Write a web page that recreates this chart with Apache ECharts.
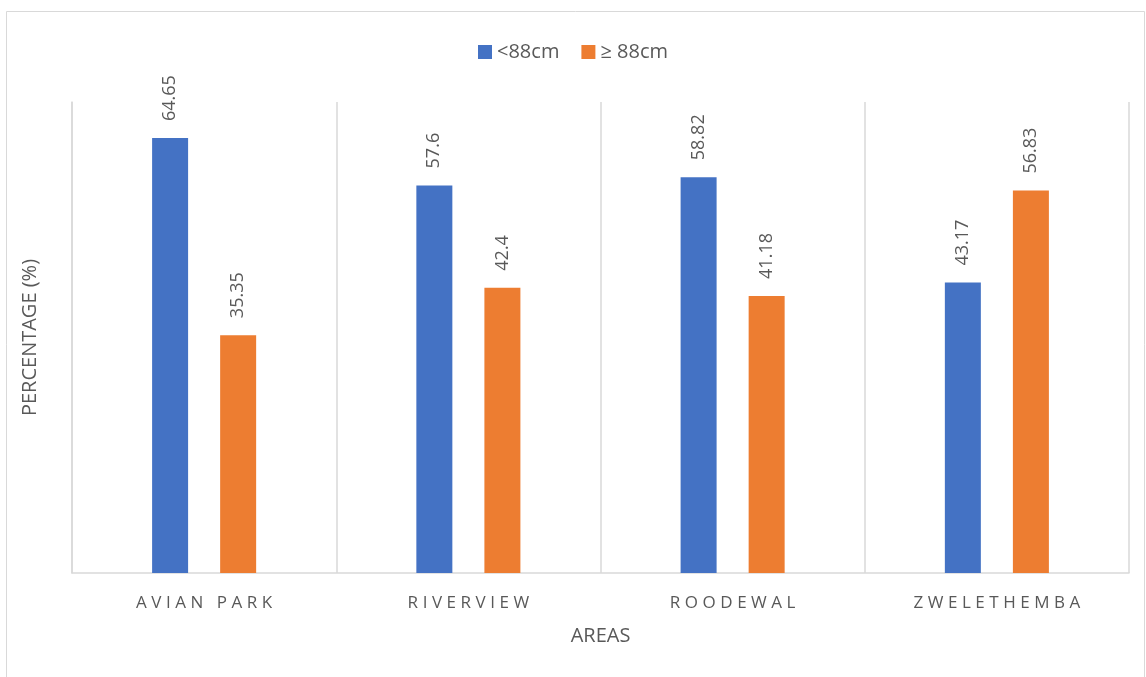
<!DOCTYPE html>
<html>
<head>
<meta charset="utf-8">
<script src="https://cdn.jsdelivr.net/npm/echarts@6/dist/echarts.min.js"></script>
<style>
  html, body { margin: 0; padding: 0; background: #fff; }
  #chart { width: 1146px; height: 677px; }
</style>
</head>
<body>
<div id="chart"></div>
<script>
// Waist circumference groups by area
const areas = ['AVIAN PARK', 'RIVERVIEW', 'ROODEWAL', 'ZWELETHEMBA'];
const seriesNames = ['<88cm', '≥ 88cm'];
const below88 = [64.65, 57.6, 58.82, 43.17];
const atOrAbove88 = [35.35, 42.4, 41.18, 56.83];

const FONT = 'Open Sans';
const TEXT = '#595959';
const GRID = '#D9D9D9';

// spread the letters of the category names
const spaced = s => s.split('').join('\u2009\u200A');

const chart = echarts.init(document.getElementById('chart'));

const valueLabel = {
  show: true,
  position: 'top',
  rotate: 90,
  align: 'left',
  verticalAlign: 'middle',
  distance: 17,
  color: TEXT,
  fontFamily: FONT,
  fontSize: 18
};

chart.setOption({
  animation: false,
  backgroundColor: '#fff',
  graphic: [{
    type: 'rect',
    shape: { x: 6.5, y: 11.5, width: 1138, height: 700 },
    style: { fill: 'none', stroke: GRID, lineWidth: 1 },
    silent: true
  }],
  legend: {
    data: seriesNames,
    top: 37,
    left: 'center',
    itemWidth: 14,
    itemHeight: 14,
    itemGap: 22,
    icon: 'rect',
    textStyle: { color: TEXT, fontFamily: FONT, fontSize: 20 }
  },
  grid: { left: 72, right: 17, top: 102, bottom: 104, containLabel: false },
  xAxis: {
    type: 'category',
    data: areas,
    name: 'AREAS',
    nameLocation: 'middle',
    nameGap: 53,
    nameTextStyle: { color: TEXT, fontFamily: FONT, fontSize: 20 },
    axisLine: { show: true, lineStyle: { color: GRID, width: 1.5 } },
    axisTick: { show: false },
    splitLine: { show: true, lineStyle: { color: GRID, width: 1.5 } },
    axisLabel: {
      color: TEXT, fontFamily: FONT, fontSize: 17, margin: 22,
      formatter: v => spaced(v)
    }
  },
  yAxis: {
    type: 'value',
    min: 0,
    max: 70,
    interval: 10,
    name: 'PERCENTAGE (%)',
    nameLocation: 'middle',
    nameGap: 32,
    nameTextStyle: { color: TEXT, fontFamily: FONT, fontSize: 20 },
    axisLine: { show: true, lineStyle: { color: GRID, width: 1.5 } },
    axisTick: { show: false },
    axisLabel: { show: false },
    splitLine: { show: false }
  },
  series: [
    {
      name: seriesNames[0],
      type: 'bar',
      data: below88,
      barWidth: 36,
      barGap: '89%',
      itemStyle: { color: '#4472C4' },
      label: valueLabel
    },
    {
      name: seriesNames[1],
      type: 'bar',
      data: atOrAbove88,
      barWidth: 36,
      itemStyle: { color: '#ED7D31' },
      label: valueLabel
    }
  ]
});
</script>
</body>
</html>
